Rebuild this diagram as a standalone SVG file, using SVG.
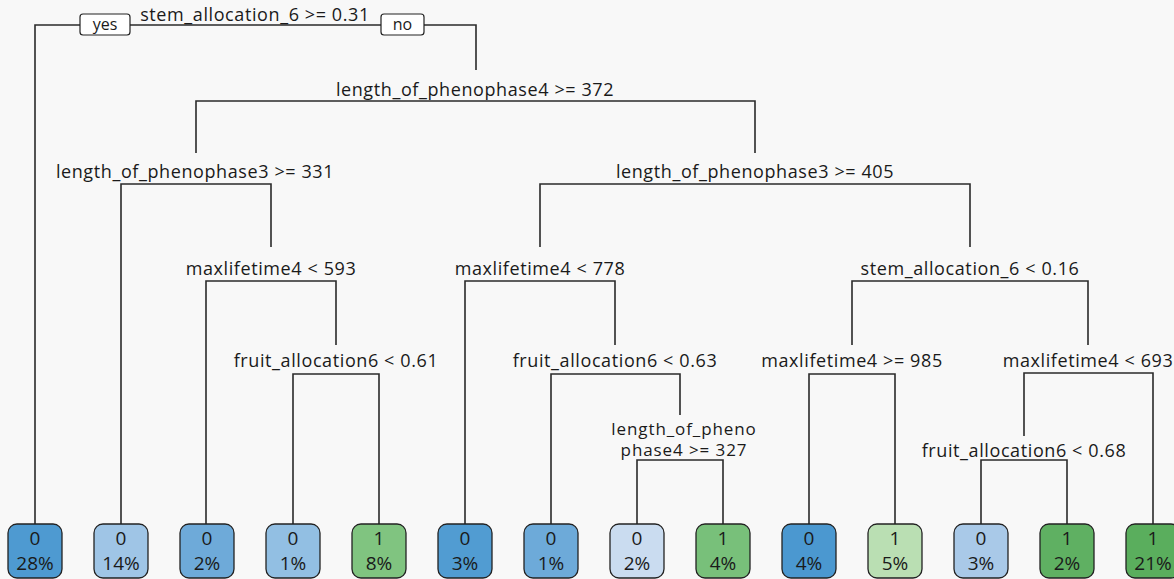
<svg xmlns="http://www.w3.org/2000/svg" width="1174" height="579" viewBox="0 0 1174 579">
<style>
text{font-family:"Open Sans","Noto Sans","DejaVu Sans",sans-serif;fill:#1a1a1a}
.sp{font-size:18px;letter-spacing:0.6px;text-anchor:middle}
.sp2{font-size:17px;letter-spacing:0.9px;text-anchor:middle}
.lf{font-size:19px;text-anchor:middle}
.yn{font-size:16px;text-anchor:middle}
.c{fill:none;stroke:#2a2a2a;stroke-width:1.6}
.leaf rect{stroke:#222;stroke-width:1.3}
.lbl{fill:#fff;stroke:#222;stroke-width:1.2}
</style>
<rect width="1174" height="579" fill="#f8f8f8"/>
<g id="connectors">
<path class="c" d="M35,524V25H476V70"/>
<path class="c" d="M196,153V101H755V153"/>
<path class="c" d="M121,524V184H271V247"/>
<path class="c" d="M206,524V281H336V345"/>
<path class="c" d="M293,524V374H379V524"/>
<path class="c" d="M540,247V184H970V247"/>
<path class="c" d="M465,524V281H615V345"/>
<path class="c" d="M551,524V374H680V415"/>
<path class="c" d="M637,524V460H723V524"/>
<path class="c" d="M852,345V281H1088V345"/>
<path class="c" d="M809,524V374H895V524"/>
<path class="c" d="M1024,436V373H1153V524"/>
<path class="c" d="M981,524V460H1067V524"/>
</g>
<g id="n1"><text class="sp" x="255" y="21">stem_allocation_6 &gt;= 0.31</text>
<rect class="lbl" x="80" y="14" width="50" height="21" rx="3"/><text class="yn" x="105" y="30">yes</text>
<rect class="lbl" x="381" y="14" width="43" height="21" rx="3"/><text class="yn" x="402.5" y="30">no</text></g>
<g id="n2"><text class="sp" x="475" y="96">length_of_phenophase4 &gt;= 372</text></g>
<g id="n3"><text class="sp" x="195" y="178">length_of_phenophase3 &gt;= 331</text></g>
<g id="n4"><text class="sp" x="271" y="275">maxlifetime4 &lt; 593</text></g>
<g id="n5"><text class="sp" x="336" y="367">fruit_allocation6 &lt; 0.61</text></g>
<g id="n6"><text class="sp" x="755" y="178">length_of_phenophase3 &gt;= 405</text></g>
<g id="n7"><text class="sp" x="540" y="275">maxlifetime4 &lt; 778</text></g>
<g id="n8"><text class="sp" x="615" y="367">fruit_allocation6 &lt; 0.63</text></g>
<g id="n9"><text class="sp2" x="684" y="435">length_of_pheno</text><text class="sp2" x="684" y="456">phase4 &gt;= 327</text></g>
<g id="n10"><text class="sp" x="970" y="275">stem_allocation_6 &lt; 0.16</text></g>
<g id="n11"><text class="sp" x="852" y="367">maxlifetime4 &gt;= 985</text></g>
<g id="n12"><text class="sp" x="1088" y="367">maxlifetime4 &lt; 693</text></g>
<g id="n13"><text class="sp" x="1024" y="457">fruit_allocation6 &lt; 0.68</text></g>
<g class="leaf">
<g id="l1"><rect x="8" y="524" width="54" height="54" rx="9" fill="#4e9ad1"/><text class="lf" x="35" y="545">0</text><text class="lf" x="35" y="570">28%</text></g>
<g id="l2"><rect x="94" y="524" width="54" height="54" rx="9" fill="#9fc5e6"/><text class="lf" x="121" y="545">0</text><text class="lf" x="121" y="570">14%</text></g>
<g id="l3"><rect x="180" y="524" width="54" height="54" rx="9" fill="#6eaad9"/><text class="lf" x="207" y="545">0</text><text class="lf" x="207" y="570">2%</text></g>
<g id="l4"><rect x="266" y="524" width="54" height="54" rx="9" fill="#92bfe3"/><text class="lf" x="293" y="545">0</text><text class="lf" x="293" y="570">1%</text></g>
<g id="l5"><rect x="352" y="524" width="54" height="54" rx="9" fill="#80c480"/><text class="lf" x="379" y="545">1</text><text class="lf" x="379" y="570">8%</text></g>
<g id="l6"><rect x="438" y="524" width="54" height="54" rx="9" fill="#519cd2"/><text class="lf" x="465" y="545">0</text><text class="lf" x="465" y="570">3%</text></g>
<g id="l7"><rect x="524" y="524" width="54" height="54" rx="9" fill="#6daad9"/><text class="lf" x="551" y="545">0</text><text class="lf" x="551" y="570">1%</text></g>
<g id="l8"><rect x="610" y="524" width="54" height="54" rx="9" fill="#cadcf0"/><text class="lf" x="637" y="545">0</text><text class="lf" x="637" y="570">2%</text></g>
<g id="l9"><rect x="696" y="524" width="54" height="54" rx="9" fill="#78c07a"/><text class="lf" x="723" y="545">1</text><text class="lf" x="723" y="570">4%</text></g>
<g id="l10"><rect x="782" y="524" width="54" height="54" rx="9" fill="#4b98d0"/><text class="lf" x="809" y="545">0</text><text class="lf" x="809" y="570">4%</text></g>
<g id="l11"><rect x="868" y="524" width="54" height="54" rx="9" fill="#badfb3"/><text class="lf" x="895" y="545">1</text><text class="lf" x="895" y="570">5%</text></g>
<g id="l12"><rect x="954" y="524" width="54" height="54" rx="9" fill="#a9c9e8"/><text class="lf" x="981" y="545">0</text><text class="lf" x="981" y="570">3%</text></g>
<g id="l13"><rect x="1040" y="524" width="54" height="54" rx="9" fill="#5fb062"/><text class="lf" x="1067" y="545">1</text><text class="lf" x="1067" y="570">2%</text></g>
<g id="l14"><rect x="1126" y="524" width="54" height="54" rx="9" fill="#5aae5d"/><text class="lf" x="1153" y="545">1</text><text class="lf" x="1153" y="570">21%</text></g>
</g>
</svg>
